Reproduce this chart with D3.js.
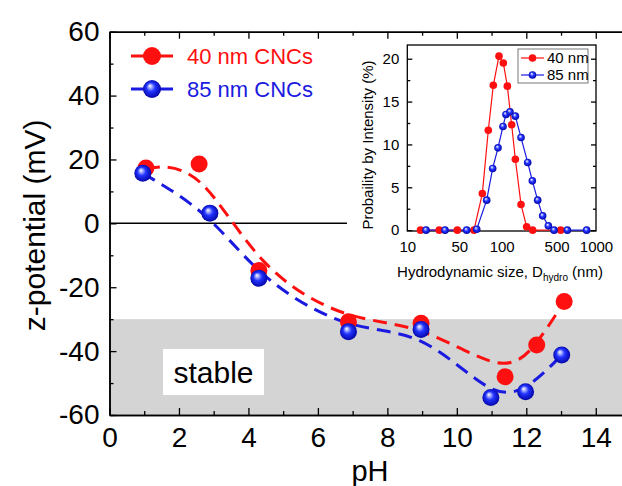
<!DOCTYPE html>
<html><head><meta charset="utf-8">
<script src="https://cdn.jsdelivr.net/npm/d3@7"></script>
<style>
html,body{margin:0;padding:0;background:#fff;}
svg{display:block;font-family:"Liberation Sans",Arial,sans-serif;}
</style></head>
<body><svg id="chart" width="622" height="486"></svg>
<script>
// ---- main chart data (pH vs zeta potential) ----
const phRed   = [1.05, 2.58, 4.30, 6.88, 8.97, 11.39, 12.30, 13.09];
const zetaRed = [17.3, 18.6, -14.8, -30.8, -31.3, -48.0, -38.1, -24.5];
const phBlue   = [0.96, 2.89, 4.30, 6.88, 8.97, 10.98, 11.98, 13.02];
const zetaBlue = [15.7, 3.2, -17.2, -33.9, -33.2, -54.5, -52.7, -41.2];
const seriesNames = ["40 nm CNCs", "85 nm CNCs"];
const xTicks = [0, 2, 4, 6, 8, 10, 12, 14];
const yTicks = [-60, -40, -20, 0, 20, 40, 60];
const stableRange = [-60, -30];

// ---- inset data (DLS size distribution) ----
const size40 = [13.8, 21.8, 33.9, 50.9, 62.4, 72.2, 81.6, 93.7, 104.2, 114.9, 127.7, 139.7, 160.4, 184, 213, 422];
const prob40 = [0, 0, 0, 0, 4.27, 11.65, 16.9, 20.3, 19.5, 16.8, 12.3, 8.27, 3.0, 0.39, 0, 0];
const size85 = [15.8, 25.1, 42.6, 54.4, 69.4, 80.3, 91.5, 103.3, 111.1, 122.5, 139.7, 160.4, 188.8, 211.5, 240.9, 272, 312.6, 359, 497, 796];
const prob85 = [0, 0, 0, 0.1, 3.5, 7.2, 9.6, 12.1, 13.5, 13.8, 13.3, 10.8, 7.9, 5.75, 3.5, 1.67, 0.5, 0, 0, 0];
const insetNames = ["40 nm", "85 nm"];
const insetXTicks = [10, 50, 100, 500, 1000];
const insetYTicks = [0, 5, 10, 15, 20];

const RED = "#ff1010", BLUE = "#1a1ae0";
const svg = d3.select("#chart");
const defs = svg.append("defs");
const g1 = defs.append("radialGradient").attr("id","ball").attr("cx","50%").attr("cy","50%").attr("r","55%").attr("fx","38%").attr("fy","32%");
g1.append("stop").attr("offset","0%").attr("stop-color","#ffffff");
g1.append("stop").attr("offset","18%").attr("stop-color","#a8b0ff");
g1.append("stop").attr("offset","45%").attr("stop-color","#2233ff");
g1.append("stop").attr("offset","100%").attr("stop-color","#00009a");

const fmt = d => String(d);
const x = d3.scaleLinear().domain([0, 15]).range([109.5, 630.5]);
const y = d3.scaleLinear().domain([-60, 60]).range([415, 31.7]);

// stable shaded band
svg.append("rect").attr("x", x(0)).attr("y", y(stableRange[1]))
  .attr("width", x(15) - x(0)).attr("height", y(stableRange[0]) - y(stableRange[1]))
  .attr("fill", "#d4d4d4");
// zero line
svg.append("line").attr("x1", x(0)).attr("x2", x(15)).attr("y1", y(0)).attr("y2", y(0))
  .attr("stroke", "#000").attr("stroke-width", 1.5);

// stable label box
svg.append("rect").attr("x", 163).attr("y", 349).attr("width", 101).attr("height", 46).attr("fill", "#fff");
svg.append("text").attr("x", 213.5).attr("y", 383).attr("text-anchor", "middle")
  .attr("font-size", 30).attr("fill", "#000").text("stable");

// dashed smoothed lines
const line = d3.line().x(d => x(d[0])).y(d => y(d[1])).curve(d3.curveBasis);
const redPts = phRed.map((v, i) => [v, zetaRed[i]]);
const bluePts = phBlue.map((v, i) => [v, zetaBlue[i]]);
svg.append("path").attr("d", line(redPts)).attr("fill", "none").attr("stroke", RED)
  .attr("stroke-width", 3).attr("stroke-dasharray", "14,8");
svg.append("path").attr("d", line(bluePts)).attr("fill", "none").attr("stroke", BLUE)
  .attr("stroke-width", 3).attr("stroke-dasharray", "14,8");

svg.selectAll(".rdot").data(redPts).enter().append("circle")
  .attr("cx", d => x(d[0])).attr("cy", d => y(d[1])).attr("r", 8.5).attr("fill", RED);
svg.selectAll(".bdot").data(bluePts).enter().append("circle")
  .attr("cx", d => x(d[0])).attr("cy", d => y(d[1])).attr("r", 8.5).attr("fill", "url(#ball)");

// legend
const leg = [[seriesNames[0], RED, 56, false], [seriesNames[1], BLUE, 89, true]];
leg.forEach(([name, c, ly, ball]) => {
  svg.append("line").attr("x1", 131).attr("x2", 173).attr("y1", ly).attr("y2", ly)
    .attr("stroke", c).attr("stroke-width", 3);
  svg.append("circle").attr("cx", 152).attr("cy", ly).attr("r", 9).attr("fill", ball ? "url(#ball)" : c);
  svg.append("text").attr("x", 187).attr("y", ly + 8).attr("font-size", 22).attr("fill", c).text(name);
});

// inset white background
svg.append("rect").attr("x", 347).attr("y", 40).attr("width", 275).attr("height", 245).attr("fill", "#fff");

// main axes (ticks inward)
function styleAxis(sel) {
  sel.selectAll("path.domain").attr("stroke", "#000").attr("stroke-width", 1.5);
  sel.selectAll(".tick line").attr("stroke", "#000").attr("stroke-width", 1.3);
  sel.selectAll(".tick text").attr("fill", "#000").attr("font-family", "'Liberation Sans',Arial,sans-serif");
}
const minorX = d3.range(1, 15, 2);
const minorY = [-50, -30, -10, 10, 30, 50];
const ax = svg.append("g").attr("transform", `translate(0,${y(-60)})`)
  .call(d3.axisBottom(x).tickValues(xTicks).tickSize(-7).tickSizeOuter(0).tickPadding(12).tickFormat(fmt));
ax.selectAll(".tick text").attr("font-size", 28);
styleAxis(ax);
const axm = svg.append("g").attr("transform", `translate(0,${y(-60)})`)
  .call(d3.axisBottom(x).tickValues(minorX).tickSize(-4).tickSizeOuter(0).tickFormat(""));
styleAxis(axm);
const axt = svg.append("g").attr("transform", `translate(0,${y(60)})`)
  .call(d3.axisTop(x).tickValues(xTicks).tickSize(-7).tickSizeOuter(0).tickFormat(""));
styleAxis(axt);
const axtm = svg.append("g").attr("transform", `translate(0,${y(60)})`)
  .call(d3.axisTop(x).tickValues(minorX).tickSize(-4).tickSizeOuter(0).tickFormat(""));
styleAxis(axtm);
const ay = svg.append("g").attr("transform", `translate(${x(0)},0)`)
  .call(d3.axisLeft(y).tickValues(yTicks).tickSize(-7).tickSizeOuter(0).tickPadding(10).tickFormat(fmt));
ay.selectAll(".tick text").attr("font-size", 28);
styleAxis(ay);
const aym = svg.append("g").attr("transform", `translate(${x(0)},0)`)
  .call(d3.axisLeft(y).tickValues(minorY).tickSize(-4).tickSizeOuter(0).tickFormat(""));
styleAxis(aym);

// axis titles
svg.append("text").attr("x", (x(0) + x(15)) / 2).attr("y", 481).attr("text-anchor", "middle")
  .attr("font-size", 29).attr("fill", "#000").text("pH");
svg.append("text").attr("transform", `translate(45,${(y(-60) + y(60)) / 2 + 2}) rotate(-90)`)
  .attr("text-anchor", "middle").attr("font-size", 30).attr("fill", "#000").text("z-potential (mV)");

// ---- inset ----
const xi = d3.scaleLog().domain([10, 1000]).range([407.3, 596]);
const yi = d3.scaleLinear().domain([-0.1, 21.6]).range([231, 45]);
const ig = svg.append("g");
ig.append("rect").attr("x", xi(10)).attr("y", yi(21.6)).attr("width", xi(1000) - xi(10))
  .attr("height", yi(-0.1) - yi(21.6)).attr("fill", "none").attr("stroke", "#000").attr("stroke-width", 1.3);
const iyl = ig.append("g").attr("transform", `translate(${xi(10)},0)`)
  .call(d3.axisLeft(yi).tickValues(insetYTicks).tickSize(-5).tickSizeOuter(0).tickPadding(8).tickFormat(fmt));
iyl.selectAll(".tick text").attr("font-size", 15);
styleAxis(iyl); iyl.selectAll("path.domain").remove();
const iylm = ig.append("g").attr("transform", `translate(${xi(10)},0)`)
  .call(d3.axisLeft(yi).tickValues([2.5, 7.5, 12.5, 17.5]).tickSize(-3).tickSizeOuter(0).tickFormat(""));
styleAxis(iylm); iylm.selectAll("path.domain").remove();
const iyr = ig.append("g").attr("transform", `translate(${xi(1000)},0)`)
  .call(d3.axisRight(yi).tickValues(insetYTicks).tickSize(-5).tickSizeOuter(0).tickFormat(""));
styleAxis(iyr); iyr.selectAll("path.domain").remove();
const iyrm = ig.append("g").attr("transform", `translate(${xi(1000)},0)`)
  .call(d3.axisRight(yi).tickValues([2.5, 7.5, 12.5, 17.5]).tickSize(-3).tickSizeOuter(0).tickFormat(""));
styleAxis(iyrm); iyrm.selectAll("path.domain").remove();
const ixb = ig.append("g").attr("transform", `translate(0,${yi(-0.1)})`)
  .call(d3.axisBottom(xi).tickValues(insetXTicks).tickSize(0).tickSizeOuter(0).tickPadding(10).tickFormat(fmt));
ixb.selectAll(".tick text").attr("font-size", 15)
  .attr("dx", d => (d === 50 ? -14 : d === 500 ? -11 : 0));
styleAxis(ixb); ixb.selectAll("path.domain").remove();

ig.append("text").attr("x", 500).attr("y", 277).attr("text-anchor", "middle").attr("font-size", 15)
  .attr("fill", "#000")
  .call(t => {
    t.append("tspan").text("Hydrodynamic size, D");
    t.append("tspan").attr("font-size", 10).attr("dy", 4).text("hydro");
    t.append("tspan").attr("dy", -4).text(" (nm)");
  });
ig.append("text").attr("transform", `translate(373,145) rotate(-90)`).attr("text-anchor", "middle")
  .attr("font-size", 15).attr("fill", "#000").text("Probaility by Intensity (%)");

const iline = d3.line().x(d => xi(d[0])).y(d => yi(d[1]));
const p40 = size40.map((v, i) => [v, prob40[i]]);
const p85 = size85.map((v, i) => [v, prob85[i]]);
ig.append("path").attr("d", iline(p40)).attr("fill", "none").attr("stroke", RED).attr("stroke-width", 1.2);
ig.append("path").attr("d", iline(p85)).attr("fill", "none").attr("stroke", BLUE).attr("stroke-width", 1.2);
ig.selectAll(".r40").data(p40).enter().append("circle")
  .attr("cx", d => xi(d[0])).attr("cy", d => yi(d[1])).attr("r", 3.8).attr("fill", RED);
ig.selectAll(".b85").data(p85).enter().append("circle")
  .attr("cx", d => xi(d[0])).attr("cy", d => yi(d[1])).attr("r", 3.8).attr("fill", "url(#ball)");

// inset legend
ig.append("rect").attr("x", 518).attr("y", 49).attr("width", 70).attr("height", 34)
  .attr("fill", "#fff").attr("stroke", "#555").attr("stroke-width", 0.8);
[[insetNames[0], RED, 58, false], [insetNames[1], BLUE, 75, true]].forEach(([n, c, ly, ball]) => {
  ig.append("line").attr("x1", 521).attr("x2", 544).attr("y1", ly).attr("y2", ly).attr("stroke", c).attr("stroke-width", 1.2);
  ig.append("circle").attr("cx", 532.5).attr("cy", ly).attr("r", 3.8).attr("fill", ball ? "url(#ball)" : c);
  ig.append("text").attr("x", 547).attr("y", ly + 5).attr("font-size", 15).attr("fill", "#000").text(n);
});
</script></body></html>
